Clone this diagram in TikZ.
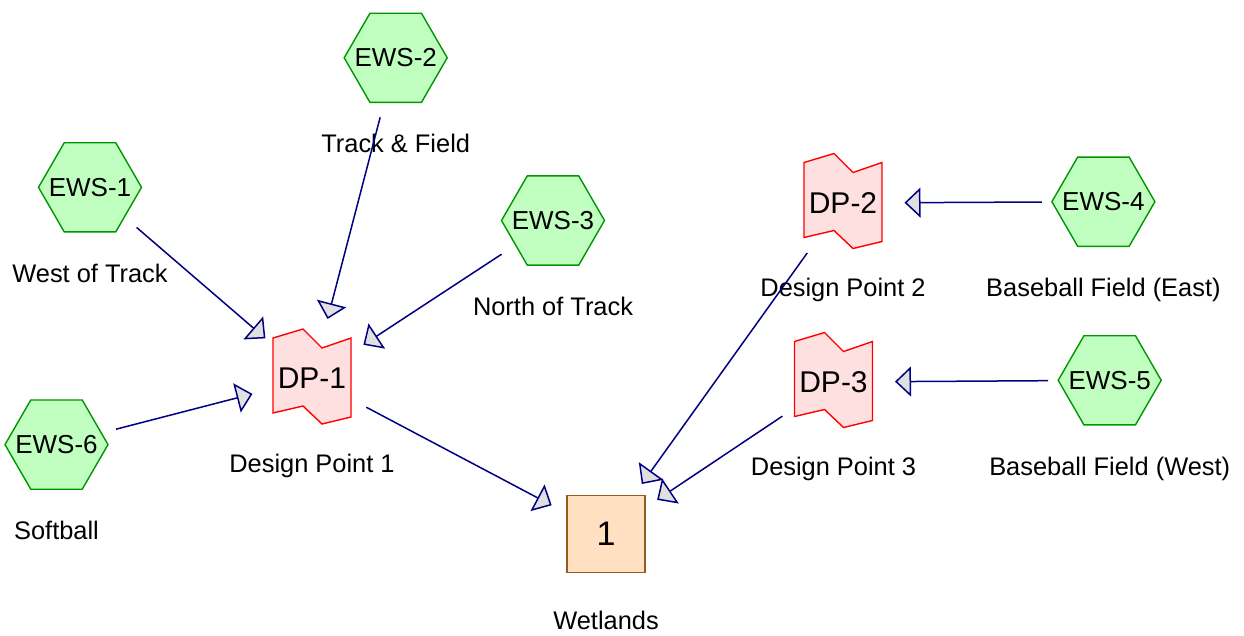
\documentclass[tikz,border=0pt]{standalone}
\usepackage{fontspec}
\setmainfont{Liberation Sans}
\usetikzlibrary{shapes.geometric,arrows.meta}
\definecolor{hexfill}{RGB}{192,255,192}
\definecolor{hexdraw}{RGB}{0,150,0}
\definecolor{dpfill}{RGB}{255,224,224}
\definecolor{dpdraw}{RGB}{255,0,0}
\definecolor{boxfill}{RGB}{255,224,192}
\definecolor{boxdraw}{RGB}{150,90,30}
\definecolor{flow}{RGB}{0,0,128}
\definecolor{tipfill}{RGB}{224,224,224}
\newcommand\hexlabel[1]{\makebox[0pt]{#1}}
\begin{document}
\begin{tikzpicture}[x=1pt,y=-1pt,
  ews/.style={regular polygon, regular polygon sides=6, minimum size=103pt, inner sep=0pt,
    draw=hexdraw, fill=hexfill, line width=1.4pt, font=\fontsize{26}{31}\selectfont},
  dplabel/.style={inner sep=0pt, font=\fontsize{30}{36}\selectfont},
  dpshape/.style={draw=dpdraw, fill=dpfill, line width=1.4pt, line join=miter},
  outlet/.style={rectangle, minimum width=78pt, minimum height=77pt, inner sep=0pt,
    draw=boxdraw, fill=boxfill, line width=1.6pt, font=\fontsize{34}{40}\selectfont},
  caption/.style={anchor=base, inner sep=0pt, font=\fontsize{25.4}{30}\selectfont},
  flowline/.style={draw=flow, line width=1.5pt, shorten <=61.5pt, shorten >=61.5pt,
    -{Triangle[length=16pt,width=30pt,fill=tipfill]}},
]
\useasboundingbox (0,0) rectangle (1244,635);

% design point shapes
\path[dpshape,shift={(312,377)}] (-39,-39) -- (-9,-48) -- (10,-29) -- (39,-39) -- (39,40) -- (10,47) -- (-9,29) -- (-39,36) -- cycle;
\path[dpshape,shift={(843,201.5)}] (-39,-39) -- (-9,-48) -- (10,-29) -- (39,-39) -- (39,40) -- (10,47) -- (-9,29) -- (-39,36) -- cycle;
\path[dpshape,shift={(833.5,380.5)}] (-39,-39) -- (-9,-48) -- (10,-29) -- (39,-39) -- (39,40) -- (10,47) -- (-9,29) -- (-39,36) -- cycle;

\node[dplabel] (dp1) at (312,378.5) {DP-1};
\node[dplabel] (dp2) at (843,203) {DP-2};
\node[dplabel] (dp3) at (833.5,382) {DP-3};

% watersheds
\node[ews] (e1) at (90,187.3) {\hexlabel{EWS-1}};
\node[ews] (e2) at (395.7,57.8) {\hexlabel{EWS-2}};
\node[ews] (e3) at (553,220.5) {\hexlabel{EWS-3}};
\node[ews] (e4) at (1103.4,201.7) {\hexlabel{EWS-4}};
\node[ews] (e5) at (1109.7,380.3) {\hexlabel{EWS-5}};
\node[ews] (e6) at (56.5,444.6) {\hexlabel{EWS-6}};

% outlet
\node[outlet] (out) at (606,534) {1};

% captions
\node[caption] (c1) at (90,282.3) {West of Track};
\node[caption] (c2) at (395.7,152.8) {Track \& Field};
\node[caption] (c3) at (553,315.5) {North of Track};
\node[caption] (c4) at (1103.4,296.7) {Baseball Field (East)};
\node[caption] (c5) at (1109.7,475.3) {Baseball Field (West)};
\node[caption] (c6) at (56.5,539.6) {Softball};
\node[caption] (cd1) at (312,472) {Design Point 1};
\node[caption] (cd2) at (843,296.5) {Design Point 2};
\node[caption] (cd3) at (833.5,475.5) {Design Point 3};
\node[caption] (cout) at (606,629) {Wetlands};

% connectors
\draw[flowline] (e1.center) -- (dp1.center);
\draw[flowline] (e2.center) -- (dp1.center);
\draw[flowline] (e3.center) -- (dp1.center);
\draw[flowline] (e6.center) -- (dp1.center);
\draw[flowline] (e4.center) -- (dp2.center);
\draw[flowline] (e5.center) -- (dp3.center);
\draw[flowline] (dp1.center) -- (out.center);
\draw[flowline] (dp2.center) -- (out.center);
\draw[flowline] (dp3.center) -- (out.center);
\end{tikzpicture}
\end{document}
